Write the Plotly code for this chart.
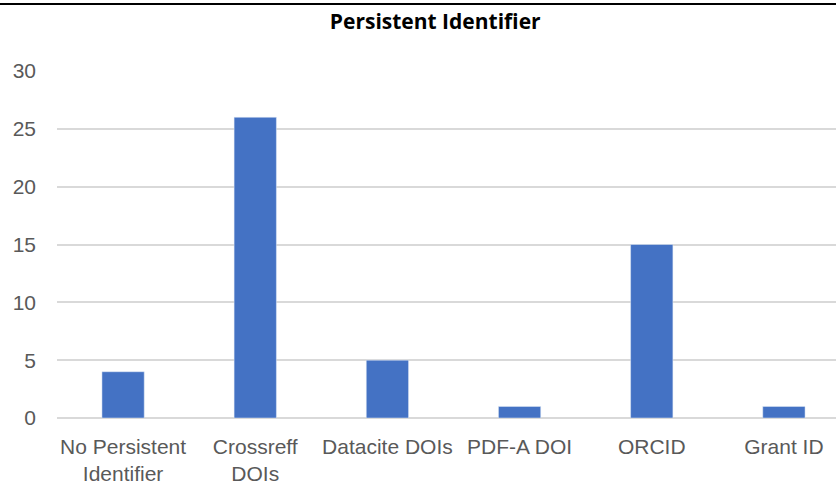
import plotly.graph_objects as go

categories = ["No Persistent<br>Identifier", "Crossreff<br>DOIs", "Datacite DOIs",
              "PDF-A DOI", "ORCID", "Grant ID"]
counts = [4, 26, 5, 1, 15, 1]
y_ticks = [0, 5, 10, 15, 20, 25, 30]

fig = go.Figure(go.Bar(x=categories, y=counts, marker=dict(color="#4472c4"),
                       hoverinfo="x+y"))

fig.update_layout(
    width=850, height=484,
    margin=dict(l=57, r=0, t=71, b=66),
    plot_bgcolor="white", paper_bgcolor="white",
    bargap=0.68,
    showlegend=False,
    title=dict(text="<b>Persistent Identifier</b>", x=0.512, xanchor="center",
               y=0.955, yanchor="middle",
               font=dict(family="Open Sans", size=21, color="black")),
    font=dict(family="Liberation Sans, Arial", size=21, color="#595959"),
    xaxis=dict(showgrid=False, showline=False, ticks="", automargin=False,
               ticklabelstandoff=14, tickfont=dict(size=21)),
    yaxis=dict(range=[0, 30], tickvals=y_ticks, showgrid=True, gridcolor="#d9d9d9",
               gridwidth=1.5, zeroline=True, zerolinecolor="#d9d9d9", zerolinewidth=1.5,
               ticks="", ticklabelstandoff=20, automargin=False, tickfont=dict(size=21)),
    shapes=[dict(type="line", xref="paper", yref="paper", x0=-0.1, x1=1.0,
                 y0=1.193, y1=1.193, line=dict(color="black", width=2))],
)

# drop the default page margin so the chart sits at the window corner
fig.write_html("out.html", config={"displayModeBar": False},
               post_script="document.body.style.margin='0';")
